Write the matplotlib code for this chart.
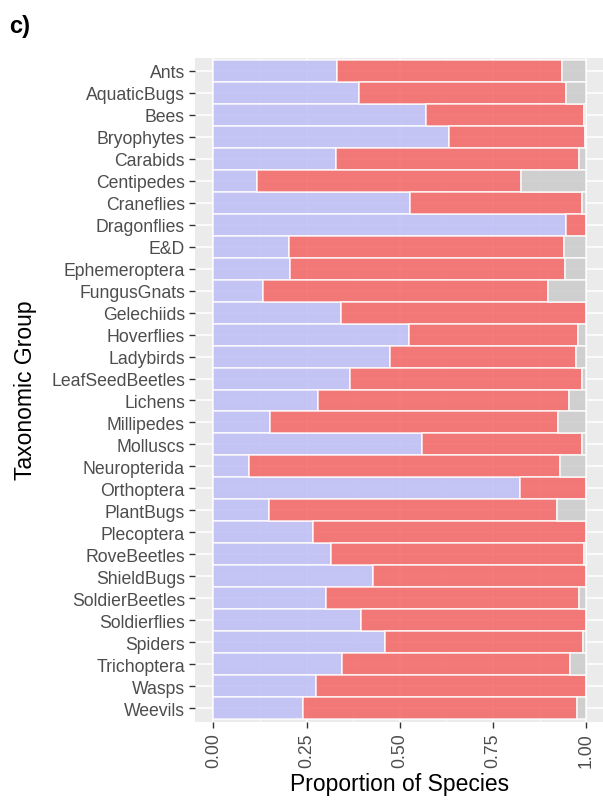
import matplotlib
matplotlib.use('Agg')
import matplotlib.pyplot as plt
import numpy as np

plt.rcParams['font.family'] = ['Liberation Sans', 'DejaVu Sans']

# taxonomic groups, top to bottom
groups = ['Ants', 'AquaticBugs', 'Bees', 'Bryophytes', 'Carabids', 'Centipedes',
          'Craneflies', 'Dragonflies', 'E&D', 'Ephemeroptera', 'FungusGnats',
          'Gelechiids', 'Hoverflies', 'Ladybirds', 'LeafSeedBeetles', 'Lichens',
          'Millipedes', 'Molluscs', 'Neuropterida', 'Orthoptera', 'PlantBugs',
          'Plecoptera', 'RoveBeetles', 'ShieldBugs', 'SoldierBeetles',
          'Soldierflies', 'Spiders', 'Trichoptera', 'Wasps', 'Weevils']

# cumulative proportions
blue_end = [0.332, 0.390, 0.569, 0.633, 0.330, 0.116, 0.526, 0.946, 0.204, 0.205,
            0.133, 0.342, 0.525, 0.473, 0.366, 0.280, 0.152, 0.559, 0.095, 0.823,
            0.149, 0.268, 0.315, 0.429, 0.301, 0.395, 0.459, 0.346, 0.275, 0.241]
red_end = [0.934, 0.946, 0.995, 0.996, 0.979, 0.825, 0.987, 1.000, 0.941, 0.942,
           0.898, 1.000, 0.977, 0.972, 0.989, 0.953, 0.923, 0.987, 0.929, 1.000,
           0.921, 1.000, 0.993, 1.000, 0.979, 1.000, 0.991, 0.955, 1.000, 0.976]

blue = np.array(blue_end)
red = np.array(red_end) - blue
grey = 1.0 - np.array(red_end)

fig = plt.figure(figsize=(6.03, 8.03), dpi=100)
W, H = 603, 803
ax = fig.add_axes([194.7 / W, 1 - 722.5 / H, 410.3 / W, (722.5 - 58.5) / H])
ax.set_facecolor('#EBEBEB')

y = np.arange(len(groups))
kw = dict(height=1.0, edgecolor='white', linewidth=1.1, zorder=2, alpha=0.85)
ax.barh(y, blue, color='#BCBCF6', **kw)
ax.barh(y, red, left=blue, color='#F46464', **kw)
ax.barh(y, grey, left=np.array(red_end), color='#CACACA', **kw)

ax.set_xlim(-0.05, 1.05)
ax.set_ylim(len(groups) - 0.4, -0.6)
ax.set_yticks(y)
ax.set_yticklabels(groups)
ax.set_xticks([0, 0.25, 0.5, 0.75, 1.0])
ax.set_xticklabels(['0.00', '0.25', '0.50', '0.75', '1.00'], rotation=90)
ax.set_xticks([0.125, 0.375, 0.625, 0.875], minor=True)

ax.grid(True, which='major', color='white', linewidth=1.1, zorder=0)
ax.grid(True, which='minor', axis='x', color='white', linewidth=0.55, zorder=0)
ax.set_axisbelow(True)
for s in ax.spines.values():
    s.set_visible(False)

ax.tick_params(axis='both', which='major', color='#333333', length=4, width=1.0,
               labelsize=12.7, labelcolor='#4D4D4D', pad=3)
ax.tick_params(axis='x', which='major', pad=4)
ax.tick_params(axis='x', which='minor', length=0)

ax.set_xlabel('Proportion of Species', fontsize=16.5, color='black', labelpad=3)
ax.set_ylabel('Taxonomic Group', fontsize=16.5, color='black')
ax.yaxis.set_label_coords((37 - 194.7) / 410.3, 0.5)

fig.text(9 / W, 1 - 26 / H, 'c)', fontsize=17, fontweight='bold', va='center', ha='left')

fig.savefig('out.png', dpi=100)
